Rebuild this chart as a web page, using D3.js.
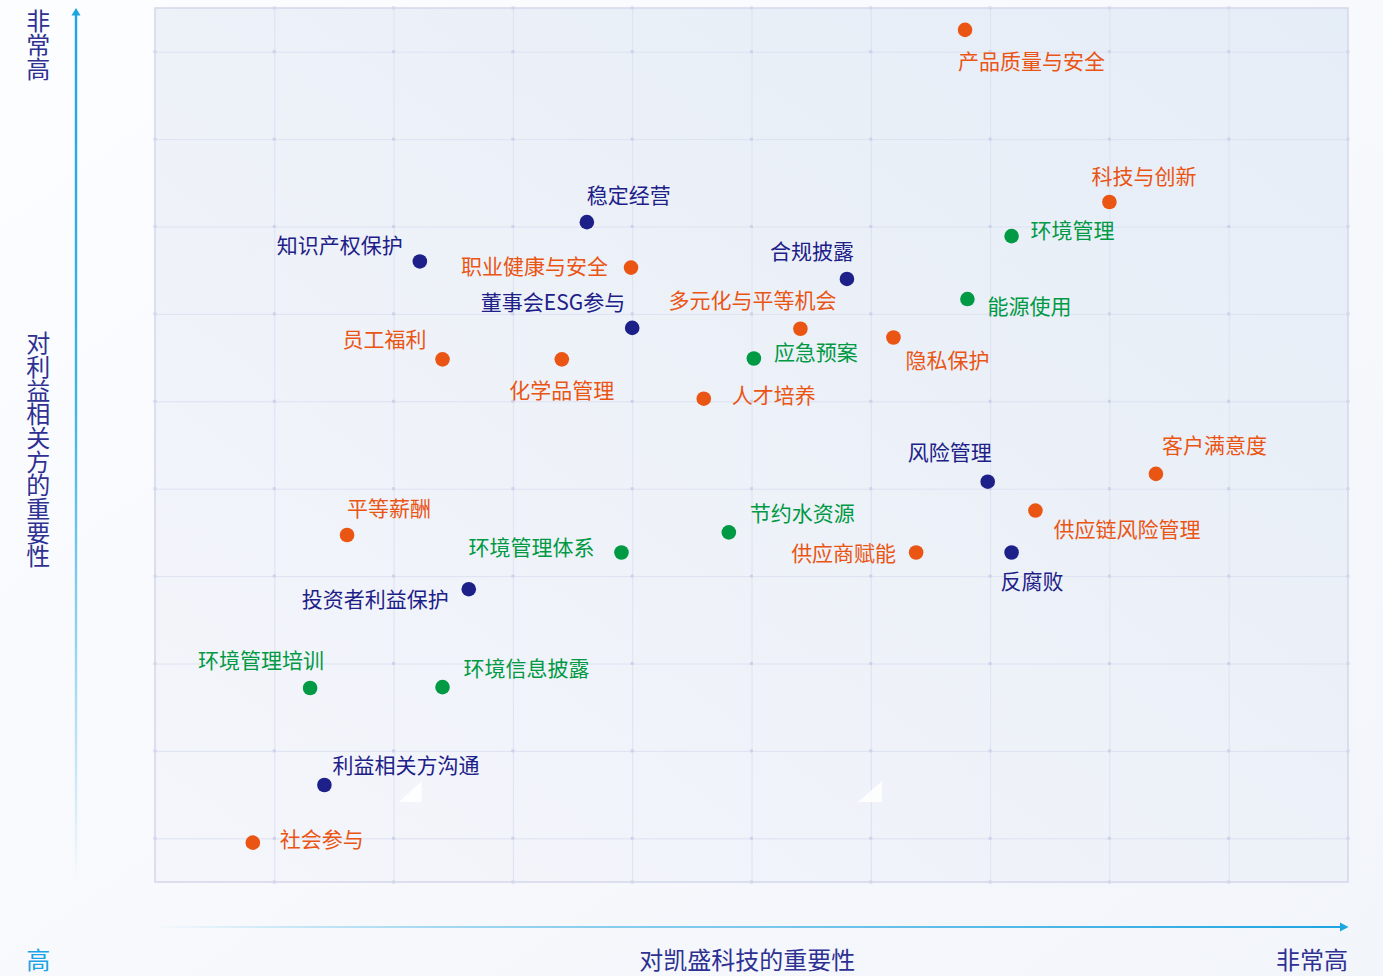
<!DOCTYPE html>
<html>
<head>
<meta charset="utf-8">
<script src="https://cdn.jsdelivr.net/npm/d3@7/dist/d3.min.js"></script>
<style>
  html, body { margin: 0; padding: 0; }
  body { width: 1383px; height: 976px; overflow: hidden; background: #f6f8fc; }
  svg { display: block; font-family: "Noto Sans CJK SC", "Noto Sans", sans-serif; }
</style>
</head>
<body>
<svg id="chart" width="1383" height="976"></svg>
<script>
// ---------- data ----------
const topics = ["产品质量与安全","科技与创新","环境管理","稳定经营","知识产权保护","职业健康与安全","合规披露","能源使用","董事会ESG参与","多元化与平等机会","隐私保护","员工福利","化学品管理","应急预案","人才培养","风险管理","客户满意度","平等薪酬","节约水资源","供应链风险管理","环境管理体系","供应商赋能","反腐败","投资者利益保护","环境管理培训","环境信息披露","利益相关方沟通","社会参与"];
// importance to the company (x)
const companyImportance = [6.79,8.00,7.18,3.62,2.22,3.99,5.80,6.81,4.00,5.41,6.19,2.41,3.41,5.02,4.60,6.98,8.39,1.61,4.81,7.38,3.91,6.38,7.18,2.63,1.30,2.41,1.42,0.82];
// importance to stakeholders (y)
const stakeholderImportance = [9.75,7.78,7.39,7.55,7.10,7.03,6.90,6.67,6.34,6.33,6.23,5.98,5.98,5.99,5.53,4.58,4.67,3.97,4.00,4.25,3.77,3.77,3.77,3.35,2.22,2.23,1.11,0.45];
// topic group: S = social, G = governance, E = environment
const groups = ["S","S","E","G","G","S","G","E","G","S","S","S","S","E","S","G","S","S","E","S","E","S","G","G","E","E","G","S"];
const xTickValues = [1,2,3,4,5,6,7,8,9];
const yTickValues = [0.5,1.5,2.5,3.5,4.5,5.5,6.5,7.5,8.5,9.5];
const xAxisTitle = "对凯盛科技的重要性";
const yAxisTitle = "对利益相关方的重要性";
const highLabel = "非常高";
const lowLabel = "高";

// ---------- layout / style ----------
const groupColor = { S: "#ea5514", G: "#1d2088", E: "#009944" };
// label placement: [anchor, dx, dy] relative to the point
const labelLayout = [
  ["start",-7,33],["start",-18,-25],["start",19,-5],["start",0,-26],["end",-17,-15],
  ["end",-23,0],["end",7,-26],["start",20,8],["end",-7,-24],["end",36,-27],
  ["start",12,24],["end",-16,-19],["middle",0,32],["start",20,-5],["start",28,-2],
  ["end",4,-28],["start",6,-27],["start",0,-26],["start",21,-18],["start",18,20],
  ["end",-27,-4],["end",-20,2],["start",-11,30],["end",-20,11],["end",14,-26],
  ["start",21,-18],["start",8,-18],["start",27,-2]
];
const textShift = -2.5;

const W = 1383, H = 976;
const plot = { left: 155, right: 1348, top: 8, bottom: 882 };
const svg = d3.select("#chart");
const defs = svg.append("defs");

const pageGrad = defs.append("linearGradient").attr("id","pageGrad")
  .attr("x1","0").attr("y1","0").attr("x2","1").attr("y2","1");
pageGrad.append("stop").attr("offset","0").attr("stop-color","#fcfdff");
pageGrad.append("stop").attr("offset","1").attr("stop-color","#f2f5fa");

const plotGrad = defs.append("linearGradient").attr("id","plotGrad")
  .attr("x1","0").attr("y1","1").attr("x2","1").attr("y2","0");
plotGrad.append("stop").attr("offset","0").attr("stop-color","#f4f6fb");
plotGrad.append("stop").attr("offset","0.5").attr("stop-color","#edf1f8");
plotGrad.append("stop").attr("offset","1").attr("stop-color","#e5edf7");

const yArrowGrad = defs.append("linearGradient").attr("id","yArrowGrad")
  .attr("gradientUnits","userSpaceOnUse")
  .attr("x1",0).attr("y1",10).attr("x2",0).attr("y2",880);
yArrowGrad.append("stop").attr("offset","0").attr("stop-color","#1ba5e1");
yArrowGrad.append("stop").attr("offset","0.45").attr("stop-color","#3db4e6");
yArrowGrad.append("stop").attr("offset","1").attr("stop-color","#1ba5e1").attr("stop-opacity","0");

const xArrowGrad = defs.append("linearGradient").attr("id","xArrowGrad")
  .attr("gradientUnits","userSpaceOnUse")
  .attr("x1",155).attr("y1",0).attr("x2",1348).attr("y2",0);
xArrowGrad.append("stop").attr("offset","0").attr("stop-color","#1ba5e1").attr("stop-opacity","0");
xArrowGrad.append("stop").attr("offset","0.5").attr("stop-color","#7cc8ec");
xArrowGrad.append("stop").attr("offset","1").attr("stop-color","#1ba5e1");

svg.append("rect").attr("width",W).attr("height",H).attr("fill","url(#pageGrad)");

const x = d3.scaleLinear().domain([0,10]).range([plot.left, plot.right]);
const y = d3.scaleLinear().domain([0,10]).range([plot.bottom, plot.top]);

// plot background
svg.append("rect")
  .attr("x", x(0)).attr("y", y(10))
  .attr("width", x(10)-x(0)).attr("height", y(0)-y(10))
  .attr("fill","url(#plotGrad)");

// grid via d3 axes
const gridColor = "#dde2f1";
const gx = svg.append("g").attr("transform",`translate(0,${y(0)})`)
  .call(d3.axisBottom(x).tickValues(xTickValues).tickSize(-(y(0)-y(10))).tickFormat(""));
const gy = svg.append("g").attr("transform",`translate(${x(0)},0)`)
  .call(d3.axisLeft(y).tickValues(yTickValues).tickSize(-(x(10)-x(0))).tickFormat(""));
[gx, gy].forEach(g => {
  g.select(".domain").remove();
  g.selectAll(".tick line").attr("stroke", gridColor).attr("stroke-width",1);
});

// small marks at grid intersections
const marks = [];
[0,...xTickValues,10].forEach(xv => yTickValues.forEach(yv => marks.push([xv,yv])));
xTickValues.forEach(xv => [0,10].forEach(yv => marks.push([xv,yv])));
svg.append("g").selectAll("rect").data(marks).join("rect")
  .attr("x", d => x(d[0]) - 1.5).attr("y", d => y(d[1]) - 1.5)
  .attr("width",3).attr("height",3).attr("fill","#cdd1ea");

// decorative triangles
[[399,421.6],[858,882]].forEach(([a,b]) => {
  svg.append("path").attr("d",`M${a},802 L${b},781 L${b},802 Z`)
    .attr("fill","#ffffff").attr("opacity",0.85);
});

// plot border
svg.append("rect")
  .attr("x", x(0)).attr("y", y(10))
  .attr("width", x(10)-x(0)).attr("height", y(0)-y(10))
  .attr("fill","none").attr("stroke","#d6d9ec").attr("stroke-width",1.6);

// axis arrows
svg.append("line").attr("x1",76).attr("x2",76).attr("y1",14).attr("y2",880)
  .attr("stroke","url(#yArrowGrad)").attr("stroke-width",2.4);
svg.append("path").attr("d","M76,8 L71.5,15.5 L80.5,15.5 Z").attr("fill","#1ba5e1");

svg.append("line").attr("x1",155).attr("x2",1342).attr("y1",927).attr("y2",927)
  .attr("stroke","url(#xArrowGrad)").attr("stroke-width",2.2);
svg.append("path").attr("d","M1348.5,927 L1340,922.5 L1340,931.5 Z").attr("fill","#1ba5e1");

// axis titles
const titleColor = "#2e3192";
const vText = (txt, cx, top, color) => {
  svg.append("text")
    .attr("x", cx).attr("y", top)
    .style("writing-mode","vertical-rl").style("text-orientation","upright")
    .attr("text-anchor","start")
    .attr("font-size",24).attr("letter-spacing","-0.3px")
    .attr("fill",color).text(txt);
};
vText(highLabel, 38.3, 9, titleColor);
vText(yAxisTitle, 38.3, 331, titleColor);

svg.append("text").attr("x",38.3).attr("y",960.5 + textShift)
  .attr("text-anchor","middle").attr("dominant-baseline","central")
  .attr("font-size",24).attr("fill","#1ba3e6").text(lowLabel);
svg.append("text").attr("x",747.3).attr("y",961 + textShift)
  .attr("text-anchor","middle").attr("dominant-baseline","central")
  .attr("font-size",24).attr("fill",titleColor).text(xAxisTitle);
svg.append("text").attr("x",1348).attr("y",961.3 + textShift)
  .attr("text-anchor","end").attr("dominant-baseline","central")
  .attr("font-size",24).attr("fill",titleColor).text(highLabel);

// points and labels
const pts = topics.map((t,i) => ({
  name: t, xv: companyImportance[i], yv: stakeholderImportance[i],
  g: groups[i], lay: labelLayout[i]
}));

svg.append("g").selectAll("circle").data(pts).join("circle")
  .attr("cx", d => x(d.xv)).attr("cy", d => y(d.yv)).attr("r",7.3)
  .attr("fill", d => groupColor[d.g]);

svg.append("g").selectAll("text").data(pts).join("text")
  .attr("x", d => x(d.xv) + d.lay[1]).attr("y", d => y(d.yv) + d.lay[2] + textShift)
  .attr("text-anchor", d => d.lay[0]).attr("dominant-baseline","central")
  .attr("font-size",21).attr("fill", d => groupColor[d.g])
  .text(d => d.name);
</script>
</body>
</html>
